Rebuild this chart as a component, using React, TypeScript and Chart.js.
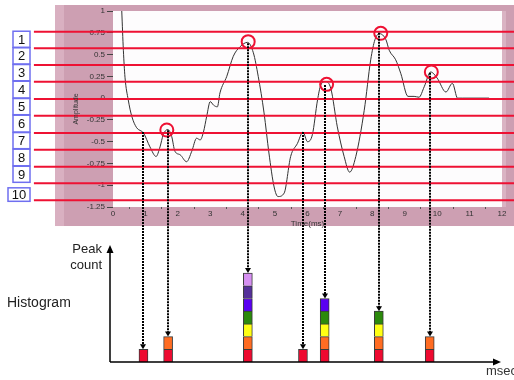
import React, { useEffect, useRef } from 'react';
import { Chart, registerables } from 'chart.js';

Chart.register(...registerables);

// ---- Data ----
const signalTimes = [0.27, 0.32, 0.37, 0.47, 0.58, 0.73, 0.94, 1.14, 1.33, 1.45, 1.55, 1.69, 1.81, 1.91, 2.07, 2.27, 2.43, 2.58, 2.69, 2.79, 2.89, 3.0, 3.1, 3.22, 3.3, 3.51, 3.71, 3.92, 4.15, 4.33, 4.48, 4.66, 4.81, 4.97, 5.09, 5.28, 5.48, 5.69, 5.86, 6.0, 6.15, 6.31, 6.41, 6.55, 6.72, 6.92, 7.13, 7.3, 7.49, 7.75, 7.95, 8.08, 8.22, 8.42, 8.52, 8.72, 8.88, 9.1, 9.29, 9.44, 9.6, 9.8, 10.0, 10.27, 10.47, 10.63, 10.78, 11.6];
const signalAmps = [1.0, 0.55, 0.24, -0.02, -0.21, -0.34, -0.40, -0.56, -0.67, -0.56, -0.42, -0.36, -0.44, -0.61, -0.65, -0.73, -0.61, -0.46, -0.48, -0.39, -0.21, -0.04, -0.08, -0.10, 0.06, 0.25, 0.48, 0.59, 0.64, 0.52, 0.25, -0.17, -0.63, -1.02, -1.13, -1.09, -0.67, -0.52, -0.39, -0.50, -0.42, -0.02, 0.15, 0.19, 0.11, -0.33, -0.67, -0.85, -0.67, -0.14, 0.44, 0.67, 0.74, 0.67, 0.55, 0.44, 0.28, 0.02, 0.02, 0.01, 0.13, 0.30, 0.23, 0.07, 0.17, 0.0, 0.0, 0.0];

const yTickValues = [-1.25, -1, -0.75, -0.5, -0.25, 0, 0.25, 0.5, 0.75, 1];
const yTickLabels = ['-1.25', '-1', '-0.75', '-0.5', '-0.25', '0', '0.25', '0.5', '0.75', '1'];

const thresholds = [0.762, 0.572, 0.38, 0.188, -0.01, -0.202, -0.401, -0.592, -0.788, -0.978, -1.173];
const levelLabels = ['1', '2', '3', '4', '5', '6', '7', '8', '9', '10'];

const circleTimes = [1.66, 4.17, 6.59, 8.26, 9.82];
const circleAmps = [-0.366, 0.648, 0.158, 0.744, 0.3];

const peakTimes = [0.94, 1.7, 4.16, 5.86, 6.53, 8.2, 9.77];
const peakAmps = [-0.39, -0.37, 0.63, -0.39, 0.15, 0.75, 0.29];
const peakCounts = [1, 2, 7, 1, 5, 4, 2];

const stackColors = ['#ee0a30', '#ff6c22', '#ffff14', '#2c8a0c', '#5a00f2', '#55309a', '#d690f2'];

const LINE_X0 = -2.44;
const LINE_X1 = 12.38;
const Y_MIN = -3.029;
const HIST_MAX = 27.64;
const FONT = '"Liberation Sans", Arial, sans-serif';

const deco = {
  id: 'deco',
  beforeDraw(chart: any) {
    const { ctx } = chart;
    const xs = chart.scales.x;
    const ys = chart.scales.y;
    const l = xs.getPixelForValue(0);
    const r = xs.getPixelForValue(12);
    const t = ys.getPixelForValue(1);
    const b = ys.getPixelForValue(-1.25);
    ctx.save();
    ctx.fillStyle = '#cd9fb2';
    ctx.fillRect(l - 58, t - 6, chart.width - (l - 58), b - t + 25);
    ctx.fillStyle = '#d9b0c1';
    ctx.fillRect(l - 58, t - 6, 9, b - t + 25);
    ctx.fillStyle = '#dab3c3';
    ctx.fillRect(r, t, 4, b - t);
    ctx.fillStyle = '#fdfcfd';
    ctx.fillRect(l, t, r - l, b - t);
    ctx.restore();
  },
  afterDraw(chart: any) {
    const { ctx } = chart;
    const xs = chart.scales.x;
    const ys = chart.scales.y;
    const hs = chart.scales.y2;
    ctx.save();

    // numbered level boxes
    ctx.font = '13px ' + FONT;
    ctx.textAlign = 'center';
    ctx.textBaseline = 'middle';
    levelLabels.forEach((lab, i) => {
      let top = ys.getPixelForValue(thresholds[i]) - 0.5;
      let bot = ys.getPixelForValue(thresholds[i + 1]) - 1;
      let left = 13;
      const right = 30;
      if (i === levelLabels.length - 1) {
        top += 5;
        bot += 2;
        left = 8;
      }
      ctx.fillStyle = '#ffffff';
      ctx.fillRect(left, top, right - left, bot - top);
      ctx.strokeStyle = '#6f6ff0';
      ctx.lineWidth = 1.5;
      ctx.strokeRect(left, top, right - left, bot - top);
      ctx.fillStyle = '#111';
      ctx.fillText(lab, (left + right) / 2, (top + bot) / 2 + 1);
    });

    // dotted drop lines from peaks to histogram
    ctx.strokeStyle = '#000';
    ctx.lineWidth = 2;
    ctx.setLineDash([2, 1]);
    peakTimes.forEach((t, i) => {
      const px = Math.round(xs.getPixelForValue(t));
      const y0 = ys.getPixelForValue(peakAmps[i]);
      const y1 = hs.getPixelForValue(peakCounts[i]);
      ctx.beginPath();
      ctx.moveTo(px, y0);
      ctx.lineTo(px, y1 - 4);
      ctx.stroke();
    });
    ctx.setLineDash([]);
    ctx.fillStyle = '#000';
    peakTimes.forEach((t, i) => {
      const px = Math.round(xs.getPixelForValue(t));
      const y1 = hs.getPixelForValue(peakCounts[i]);
      ctx.beginPath();
      ctx.moveTo(px - 3, y1 - 5);
      ctx.lineTo(px + 3, y1 - 5);
      ctx.lineTo(px, y1);
      ctx.closePath();
      ctx.fill();
    });

    // histogram axes with arrows
    const ox = xs.getPixelForValue(0) - 3;
    const oy = hs.getPixelForValue(0);
    const topY = oy - 117;
    const endX = xs.getPixelForValue(12) - 1;
    ctx.strokeStyle = '#000';
    ctx.fillStyle = '#000';
    ctx.lineWidth = 1.5;
    ctx.beginPath();
    ctx.moveTo(ox, oy);
    ctx.lineTo(ox, topY + 5);
    ctx.moveTo(ox, oy);
    ctx.lineTo(endX - 6, oy);
    ctx.stroke();
    ctx.beginPath();
    ctx.moveTo(ox, topY);
    ctx.lineTo(ox - 3.5, topY + 8);
    ctx.lineTo(ox + 3.5, topY + 8);
    ctx.closePath();
    ctx.fill();
    ctx.beginPath();
    ctx.moveTo(endX, oy);
    ctx.lineTo(endX - 8, oy - 3.5);
    ctx.lineTo(endX - 8, oy + 3.5);
    ctx.closePath();
    ctx.fill();

    // texts
    ctx.fillStyle = '#222';
    ctx.textBaseline = 'alphabetic';
    ctx.textAlign = 'right';
    ctx.font = '13px ' + FONT;
    ctx.fillText('Peak', ox - 8, 253);
    ctx.fillText('count', ox - 8, 269);
    ctx.textAlign = 'left';
    ctx.font = '14px ' + FONT;
    ctx.fillText('Histogram', 7, 307);
    ctx.font = '13px ' + FONT;
    ctx.fillStyle = '#333';
    ctx.fillText('msec', 486, 375);

    const tY = ys.getPixelForValue(1);
    const bY = ys.getPixelForValue(-1.25);
    ctx.save();
    ctx.translate(76, (tY + bY) / 2);
    ctx.rotate(-Math.PI / 2);
    ctx.font = '7px ' + FONT;
    ctx.textAlign = 'center';
    ctx.textBaseline = 'middle';
    ctx.fillStyle = '#333';
    ctx.fillText('Amplitude', 0, 0);
    ctx.restore();

    ctx.restore();
  },
};

export default function App() {
  const ref = useRef<HTMLCanvasElement>(null);
  useEffect(() => {
    const canvas = ref.current;
    if (!canvas) return;
    const datasets: any[] = [];
    datasets.push({
      type: 'line',
      data: signalTimes.map((t, i) => ({ x: t, y: signalAmps[i] })),
      yAxisID: 'y',
      borderColor: '#333',
      borderWidth: 1,
      pointRadius: 0,
      cubicInterpolationMode: 'monotone',
      fill: false,
      order: 10,
    });
    thresholds.forEach((v) =>
      datasets.push({
        type: 'line',
        data: [
          { x: LINE_X0, y: v },
          { x: LINE_X1, y: v },
        ],
        yAxisID: 'y',
        borderColor: '#ee1133',
        borderWidth: 2,
        pointRadius: 0,
        fill: false,
        clip: false,
        order: 5,
      })
    );
    datasets.push({
      type: 'line',
      data: circleTimes.map((t, i) => ({ x: t, y: circleAmps[i] })),
      yAxisID: 'y',
      showLine: false,
      pointRadius: 6.5,
      pointHoverRadius: 6.5,
      pointBorderWidth: 2,
      pointBorderColor: '#ee1133',
      pointBackgroundColor: 'rgba(0,0,0,0)',
      clip: false,
      order: 1,
    });
    stackColors.forEach((c, k) =>
      datasets.push({
        type: 'bar',
        yAxisID: 'y2',
        stack: 'hist',
        data: peakTimes
          .map((t, i) => ({ x: t, y: peakCounts[i] > k ? 1 : 0 }))
          .filter((d) => d.y > 0),
        backgroundColor: c,
        borderColor: '#3a3a3a',
        borderWidth: 1,
        borderSkipped: 'start',
        barThickness: 9,
        order: 3,
      })
    );

    const chart = new Chart(canvas, {
      type: 'line',
      data: { datasets },
      plugins: [deco],
      options: {
        responsive: false,
        animation: false,
        events: [],
        layout: { padding: { left: 63, right: 12, top: 11, bottom: 18 } },
        plugins: { legend: { display: false }, tooltip: { enabled: false } },
        scales: {
          x: {
            type: 'linear',
            min: 0,
            max: 12,
            offset: false,
            position: { y: -1.25 } as any,
            ticks: {
              stepSize: 1,
              autoSkip: false,
              maxRotation: 0,
              padding: 0,
              color: '#333',
              font: { size: 8, family: FONT },
            },
            grid: { drawOnChartArea: false, drawTicks: true, tickLength: 2, color: '#555' },
            border: { display: false },
            title: {
              display: true,
              text: 'Time(ms)',
              color: '#333',
              padding: 0,
              font: { size: 8, family: FONT },
            },
          },
          y: {
            type: 'linear',
            position: 'left',
            min: Y_MIN,
            max: 1,
            stacked: false,
            afterBuildTicks: (s: any) => {
              s.ticks = yTickValues.map((v) => ({ value: v }));
            },
            afterFit: (s: any) => {
              s.width = 50;
            },
            ticks: {
              autoSkip: false,
              padding: 2,
              color: '#333',
              font: { size: 8, family: FONT },
              callback: (v: any) => yTickLabels[yTickValues.indexOf(Number(v))],
            },
            grid: { drawOnChartArea: false, drawTicks: true, tickLength: 6, color: '#444' },
            border: { display: false },
          },
          y2: {
            type: 'linear',
            display: false,
            min: 0,
            max: HIST_MAX,
            stacked: true,
          },
        },
      } as any,
    });
    return () => chart.destroy();
  }, []);
  return (
    <div style={{ position: 'absolute', left: 0, top: 0, width: 514, height: 380 }}>
      <canvas ref={ref} width={514} height={380} style={{ display: 'block' }} />
    </div>
  );
}
